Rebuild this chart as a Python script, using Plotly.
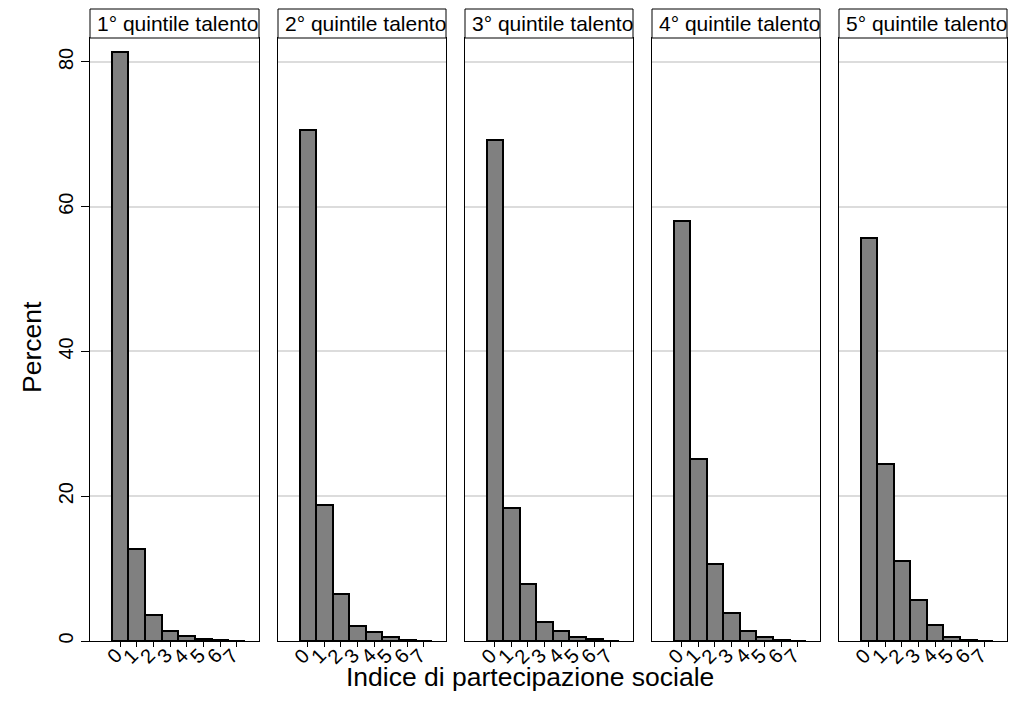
import plotly.graph_objects as go

# Distribution of the social participation index by talent quintile (percent)
categories = [0, 1, 2, 3, 4, 5, 6, 7]
tick_labels = ["0", "1", "2", "3", "4", "5", "6", "7"]
panel_titles = ["1° quintile talento", "2° quintile talento", "3° quintile talento",
                "4° quintile talento", "5° quintile talento"]
q1 = [81.4, 12.7, 3.6, 1.43, 0.69, 0.28, 0.14, 0.0]
q2 = [70.6, 18.85, 6.54, 2.12, 1.29, 0.51, 0.14, 0.0]
q3 = [69.2, 18.4, 7.83, 2.63, 1.38, 0.51, 0.23, 0.0]
q4 = [58.0, 25.2, 10.7, 3.8, 1.44, 0.6, 0.19, 0.0]
q5 = [55.7, 24.4, 11.0, 5.6, 2.27, 0.6, 0.19, 0.05]
series = [q1, q2, q3, q4, q5]
y_ticks = [0, 20, 40, 60, 80]

W, H = 1012, 720
FONT = "Liberation Sans, Arial, sans-serif"
panel_px = [(90, 259), (278, 446), (465, 633), (652, 820), (839, 1007)]
plot_top, plot_bottom, header_top = 38, 641, 9

def fx(px):
    return px / W

def fy(py):
    return 1 - py / H

fig = go.Figure()
layout = dict(
    width=W, height=H,
    margin=dict(l=0, r=0, t=0, b=0, autoexpand=False),
    paper_bgcolor="white", plot_bgcolor="white",
    showlegend=False,
    font=dict(family=FONT, color="black"),
    bargap=0,
)
shapes, annotations = [], []

for i, (vals, title, (x0, x1)) in enumerate(zip(series, panel_titles, panel_px)):
    n = "" if i == 0 else str(i + 1)
    fig.add_trace(go.Bar(
        x=categories, y=vals, width=1,
        marker=dict(color="#808080", line=dict(color="black", width=2)),
        xaxis="x" + n, yaxis="y" + n, hoverinfo="x+y",
    ))
    layout["xaxis" + n] = dict(
        domain=[fx(x0), fx(x1)], anchor="y" + n, automargin=False,
        range=[-1.8, 8.34], tickmode="array", tickvals=categories,
        showticklabels=False,
        ticks="outside", ticklen=5, tickcolor="black", tickwidth=1,
        showline=True, linecolor="black", linewidth=1, mirror=True,
        showgrid=False, zeroline=False, fixedrange=True,
    )
    layout["yaxis" + n] = dict(
        domain=[fy(plot_bottom), fy(plot_top)], anchor="x" + n, automargin=False,
        range=[0, 83.3], tickmode="array", tickvals=y_ticks,
        showgrid=True, gridcolor="#dcdcdc", gridwidth=1.5,
        showline=True, linecolor="black", linewidth=1, mirror=True,
        zeroline=False, fixedrange=True,
        ticks="outside" if i == 0 else "", ticklen=8, tickcolor="black",
        showticklabels=(i == 0), tickangle=-90,
        tickfont=dict(size=20, family=FONT),
    )
    # rotated category labels under each tick
    for c, lab in zip(categories, tick_labels):
        annotations.append(dict(text=lab, xref="x" + n, yref="paper",
                                x=c, y=fy(656), xshift=-6,
                                xanchor="center", yanchor="middle", textangle=-45,
                                showarrow=False,
                                font=dict(size=20, family=FONT, color="black")))
    # panel header strip
    shapes.append(dict(type="rect", xref="paper", yref="paper",
                       x0=fx(x0), x1=fx(x1), y0=fy(plot_top), y1=fy(header_top),
                       line=dict(color="black", width=1), fillcolor="white"))
    annotations.append(dict(text=title, xref="paper", yref="paper",
                            x=fx((x0 + x1) / 2 + 3), y=fy((plot_top + header_top) / 2 + 0.5),
                            xanchor="center", yanchor="middle", showarrow=False,
                            font=dict(size=21, family=FONT, color="black")))

annotations.append(dict(text="Indice di partecipazione sociale", xref="paper", yref="paper",
                        x=fx(530), y=fy(677), xanchor="center", yanchor="middle",
                        showarrow=False, font=dict(size=26.5, family=FONT, color="black")))
annotations.append(dict(text="Percent", xref="paper", yref="paper",
                        x=fx(32), y=fy(347), xanchor="center", yanchor="middle",
                        textangle=-90, showarrow=False,
                        font=dict(size=26.5, family=FONT, color="black")))

layout["shapes"] = shapes
layout["annotations"] = annotations
fig.update_layout(**layout)
fig.write_html("out.html")
